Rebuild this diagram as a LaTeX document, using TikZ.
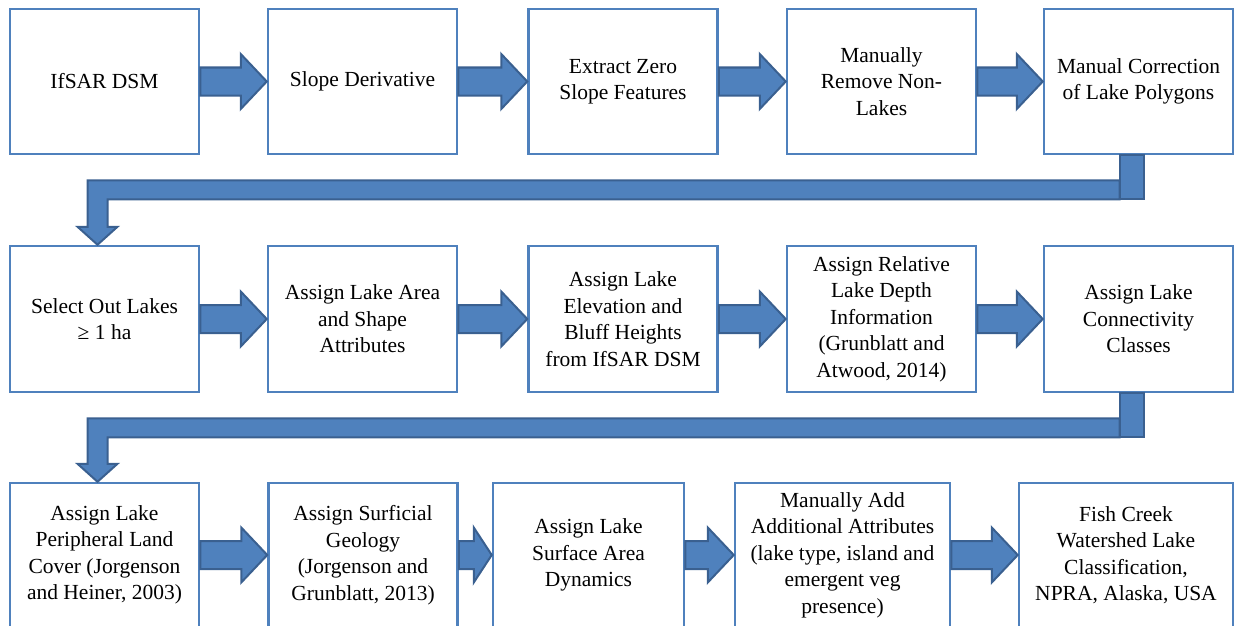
\documentclass[tikz,border=0pt]{standalone}
\usepackage{fontspec}
\setmainfont{Liberation Serif}
\usetikzlibrary{calc}
\definecolor{boxblue}{HTML}{4F81BD}
\definecolor{arrowline}{HTML}{3A6090}
\tikzset{
  stage/.style      = {draw=boxblue, line width=2.5pt, fill=white, align=center,
                       inner sep=0pt, minimum width=189pt, minimum height=145pt,
                       font=\rmfamily\fontsize{21.5}{26.5}\selectfont},
  blockarrow/.style = {fill=boxblue, draw=arrowline, line width=2pt, line join=miter}
}

\begin{document}
\begin{tikzpicture}[x=1pt, y=1pt]

  \useasboundingbox (0,0) rectangle (1244,-626);
  \clip (0,0) rectangle (1244,-626);

  % first row: building the lake polygons
  \node[stage] (s11) at (104.5,-81.5) {IfSAR DSM};
  \node[stage] (s12) at (362.5,-81.5) {Slope Derivative};
  \node[stage] (s13) at (623,-81.5)   {Extract Zero\\Slope Features};
  \node[stage] (s14) at (881.5,-81.5) {Manually\\Remove Non-\\Lakes};
  \node[stage] (s15) at (1138.5,-81.5) {Manual Correction\\of Lake Polygons};

  % second row: lake attributes
  \begin{scope}[every node/.style={stage, minimum height=146pt}]
  \node (s21) at (104.5,-319) {Select Out Lakes\\≥ 1 ha};
  \node (s22) at (362.5,-319) {Assign Lake Area\\and Shape\\Attributes};
  \node (s23) at (623,-319)   {Assign Lake\\Elevation and\\Bluff Heights\\from IfSAR DSM};
  \node (s24) at (881.5,-319) {Assign Relative\\Lake Depth\\Information\\(Grunblatt and\\Atwood, 2014)};
  \node (s25) at (1138.5,-319) {Assign Lake\\Connectivity\\Classes};
  \end{scope}

  % third row, boxes run past the lower edge
  \begin{scope}[every node/.style={stage, minimum height=144pt}]
  \node (s31) at (104.5,-555) {Assign Lake\\Peripheral Land\\Cover (Jorgenson\\and Heiner, 2003)};
  \node (s32) at (363,-555) {Assign Surficial\\Geology\\(Jorgenson and\\Grunblatt, 2013)};
  \node[minimum width=191pt] (s33) at (588.5,-555) {Assign Lake\\Surface Area\\Dynamics};
  \node[minimum width=215pt] (s34) at (842.5,-555) {Manually Add\\Additional Attributes\\(lake type, island and\\emergent veg\\presence)};
  \node[minimum width=214pt] (s35) at (1126,-555) {Fish Creek\\Watershed Lake\\Classification,\\NPRA, Alaska, USA};
  \end{scope}

  % block arrows between neighbours in a row (last value = head length)
  \foreach \src/\dst/\h in {s11/s12/26, s12/s13/26, s13/s14/26, s14/s15/26,
                            s21/s22/26, s22/s23/26, s23/s24/26, s24/s25/26,
                            s31/s32/26, s32/s33/18, s33/s34/26, s34/s35/26}
    \draw[blockarrow] ($(\src.east)+(0,14)$) -- ($(\dst.west)+(-\h,14)$)
      -- ($(\dst.west)+(-\h,27.5)$) -- (\dst.west) -- ($(\dst.west)+(-\h,-27.5)$)
      -- ($(\dst.west)+(-\h,-14)$) -- ($(\src.east)+(0,-14)$) -- cycle;

  % bent arrows from the end of a row back to the start of the next
  \foreach \src/\dst in {s15/s21, s25/s31} {
    \draw[blockarrow] let \p1 = (\src.south), \p2 = (\dst.north) in
      (\x1-19pt,\y1-25pt) -- (\x2-17pt,\y1-25pt) -- (\x2-17pt,\y2+18pt)
      -- (\x2-27pt,\y2+18pt) -- (\x2-7pt,\y2) -- (\x2+13pt,\y2+18pt)
      -- (\x2+3pt,\y2+18pt) -- (\x2+3pt,\y1-44pt) -- (\x1-19pt,\y1-44pt) -- cycle;
    \draw[blockarrow] let \p1 = (\src.south) in
      (\x1-19pt,\y1) rectangle (\x1+5pt,\y1-44pt);
  }

\end{tikzpicture}
\end{document}
